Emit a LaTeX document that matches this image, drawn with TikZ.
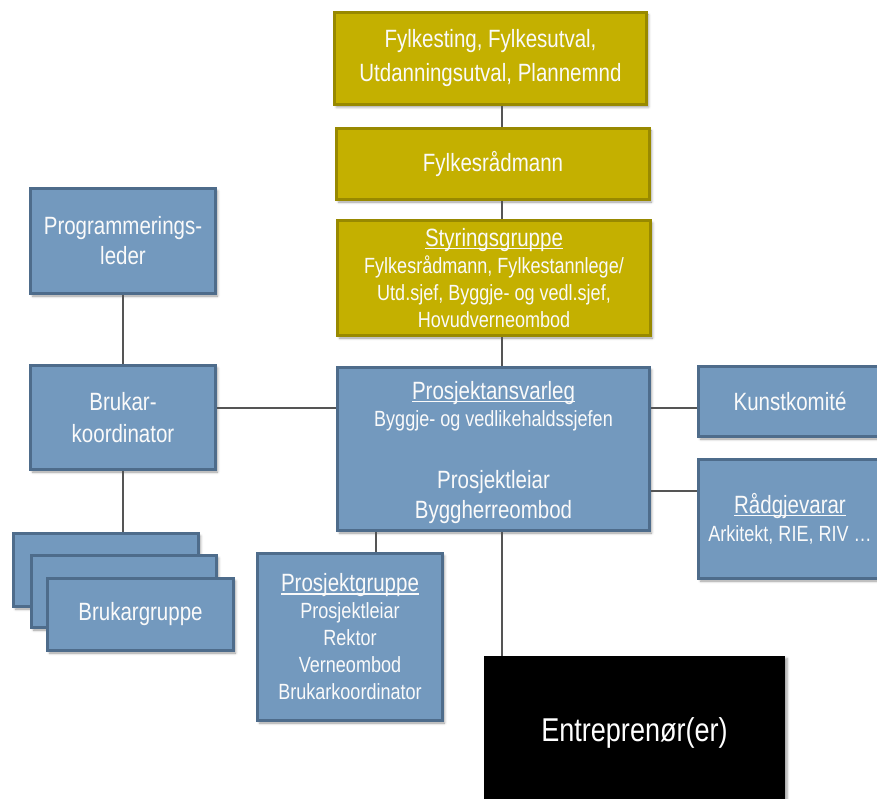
\documentclass[tikz,border=0pt]{standalone}
\usepackage{fontspec}
\usetikzlibrary{shadows.blur}
\setmainfont{Liberation Sans}[FakeStretch=0.82]

\newcommand\hdfont{\fontsize{25}{30}\selectfont}
\newcommand\sbfont{\fontsize{22}{26}\selectfont}
% underline that sits just below the baseline
\newsavebox\ulbox
\newcommand\ulword[1]{\sbox\ulbox{#1}\rlap{\rule[-2.8pt]{\wd\ulbox}{1.3pt}}\usebox\ulbox}

\definecolor{blueFill}{RGB}{115,153,190}
\definecolor{blueEdge}{RGB}{78,108,139}
\definecolor{goldFill}{RGB}{196,176,0}
\definecolor{goldEdge}{RGB}{152,137,0}
\definecolor{linkGray}{RGB}{85,85,85}
\definecolor{txtWhite}{RGB}{250,250,250}

\tikzset{
  box/.style={draw, line width=3pt, inner sep=0pt, text=txtWhite, align=center, font=\hdfont,
    blur shadow={shadow xshift=2pt, shadow yshift=-2.5pt, shadow blur radius=2.5pt, shadow opacity=40}},
  bluebox/.style={box, fill=blueFill, draw=blueEdge},
  goldbox/.style={box, fill=goldFill, draw=goldEdge},
  blackbox/.style={fill=black, inner sep=0pt, text=white, align=center,
    font=\fontsize{33}{38}\selectfont,
    blur shadow={shadow xshift=2pt, shadow yshift=-2.5pt, shadow blur radius=2.5pt, shadow opacity=40}},
  link/.style={draw=linkGray, line width=1.3pt},
}

\begin{document}
\begin{tikzpicture}[x=1pt, y=-1pt]
\useasboundingbox (0,0) rectangle (877,799);

% governing bodies
\node[goldbox, minimum width=312pt, minimum height=92pt, font=\fontsize{25}{34}\selectfont]
  (top) at (490.5,58.5) {Fylkesting, Fylkesutval,\\Utdanningsutval, Plannemnd};
\node[goldbox, minimum width=313pt, minimum height=71pt] (fylk) at (493,164) {Fylkesrådmann};
\node[goldbox, minimum width=313pt, minimum height=115pt, font=\fontsize{25}{27}\selectfont]
  (styr) at (494,278)
  {\ulword{Styringsgruppe}\\\sbfont Fylkesrådmann, Fylkestannlege/\\\sbfont Utd.sjef, Byggje- og vedl.sjef,\\\sbfont Hovudverneombod};

% left column
\node[bluebox, minimum width=185pt, minimum height=105pt] (prog) at (123,241) {Programmerings-\\leder};
\node[bluebox, minimum width=185pt, minimum height=104pt, font=\fontsize{25}{32}\selectfont]
  (bkoord) at (123,417.5) {Brukar-\\koordinator};

% project owner (the strut pushes the text block down a little)
\node[bluebox, minimum width=312pt, minimum height=163pt, font=\fontsize{25}{27}\selectfont]
  (proj) at (493.5,449)
  {\rule{0pt}{24.5pt}\ulword{Prosjektansvarleg}\\\sbfont Byggje- og vedlikehaldssjefen\\[35pt]Prosjektleiar\\[3pt]Byggherreombod};

% right column
\node[bluebox, minimum width=183pt, minimum height=70pt] (kunst) at (790,401.5) {Kunstkomité};
\node[bluebox, minimum width=183pt, minimum height=119pt, font=\fontsize{25}{28}\selectfont]
  (radg) at (790,519) {\ulword{Rådgjevarar}\\\sbfont Arkitekt, RIE, RIV …};

% stacked user groups
\node[bluebox, minimum width=185pt, minimum height=73pt] (bg1) at (106,570) {};
\node[bluebox, minimum width=185pt, minimum height=72pt] (bg2) at (124,591.5) {};
\node[bluebox, minimum width=186pt, minimum height=72pt] (bg3) at (140.5,614.5) {Brukargruppe};

% project group
\node[bluebox, minimum width=185pt, minimum height=167pt, font=\fontsize{25}{27}\selectfont]
  (pgrp) at (350,637)
  {\ulword{Prosjektgruppe}\\\sbfont Prosjektleiar\\\sbfont Rektor\\\sbfont Verneombod\\\sbfont Brukarkoordinator};

% contractor
\node[blackbox, minimum width=301pt, minimum height=153pt] (entr) at (634.5,732.5) {Entreprenør(er)};

% connector guides
\coordinate (spine) at (502,0);
\coordinate (rowA) at (0,408);
\coordinate (rowB) at (0,491);
\coordinate (colC) at (376,0);

% connectors
\draw[link] (spine |- top.south) -- (spine |- fylk.north);
\draw[link] (spine |- fylk.south) -- (spine |- styr.north);
\draw[link] (spine |- styr.south) -- (spine |- proj.north);
\draw[link] (spine |- proj.south) -- (spine |- entr.north);
\draw[link] (prog.south) -- (bkoord.north);
\draw[link] (bkoord.south) -- (bkoord.south |- bg1.north);
\draw[link] (bkoord.east |- rowA) -- (proj.west |- rowA);
\draw[link] (proj.east |- rowA) -- (kunst.west |- rowA);
\draw[link] (proj.east |- rowB) -- (radg.west |- rowB);
\draw[link] (colC |- proj.south) -- (colC |- pgrp.north);
\end{tikzpicture}
\end{document}
